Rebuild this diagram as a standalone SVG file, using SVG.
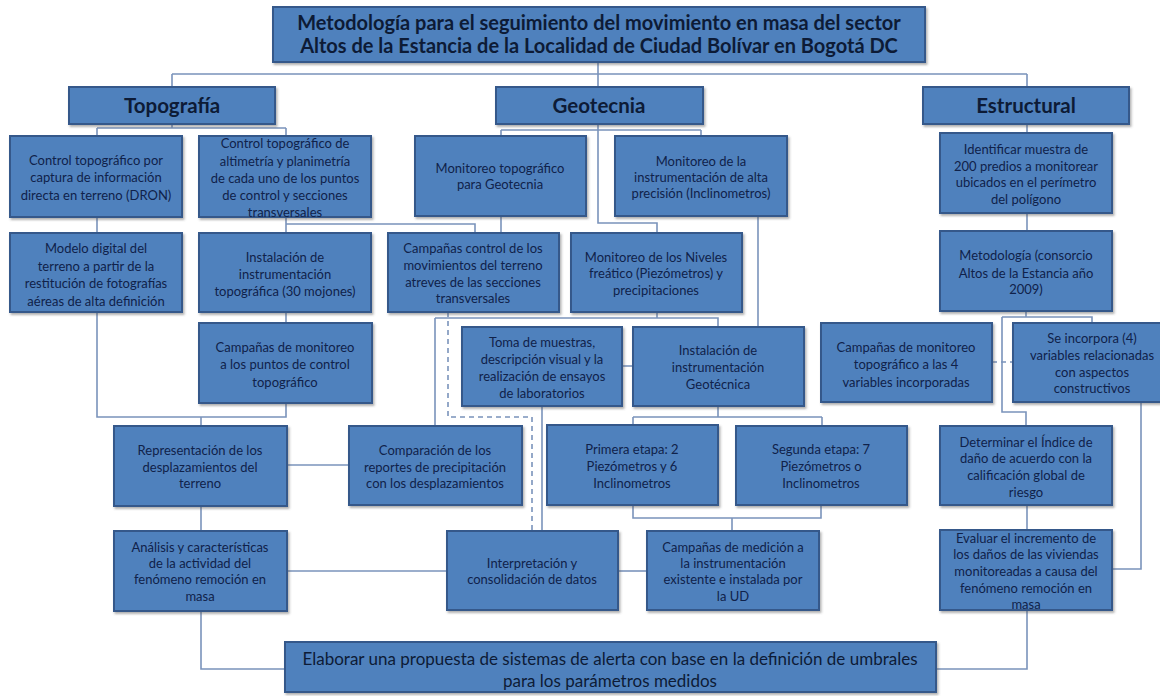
<svg xmlns="http://www.w3.org/2000/svg" width="1160" height="696" viewBox="0 0 1160 696">
<defs>
<filter id="sh" x="-5%" y="-5%" width="115%" height="120%">
<feDropShadow dx="1.5" dy="2" stdDeviation="1.2" flood-color="#555" flood-opacity="0.45"/>
</filter>
</defs>
<style>
.box{fill:#4f81bd;stroke:#36598a;stroke-width:2;filter:url(#sh)}
.t{font-family:Lato,"Liberation Sans",sans-serif;font-size:13px;fill:#10224a;text-anchor:middle;dominant-baseline:central}
.h{font-family:Lato,"Liberation Sans",sans-serif;font-size:20.5px;font-weight:bold;fill:#0d1b36;text-anchor:middle;dominant-baseline:central}
.ti{font-family:Lato,"Liberation Sans",sans-serif;font-size:20px;font-weight:bold;fill:#0d1b36;text-anchor:middle;dominant-baseline:central}
.f{font-family:Lato,"Liberation Sans",sans-serif;font-size:17px;fill:#0d1b36;text-anchor:middle;dominant-baseline:central}
.c{fill:none;stroke:#7a93bb;stroke-width:1.6}
.d{fill:none;stroke:#7a93bb;stroke-width:1.6;stroke-dasharray:5,4}
</style>
<rect width="1160" height="696" fill="#ffffff"/>
<g id="connectors">
<path class="c" d="M598,62 V74 M172,74 H1027 M172,74 V87 M598,74 V87 M1027,74 V87"/>
<path class="c" d="M172,124 V128 M97,128 H286 M97,128 V136 M286,128 V136"/>
<path class="c" d="M598,124 V223 H657 V233 M501,130 H701 M501,130 V136 M701,130 V136"/>
<path class="c" d="M1027,124 V133"/>
<path class="c" d="M97,217 V233"/>
<path class="c" d="M286,217 V233 M286,224 H475 V233"/>
<path class="c" d="M501,216 V233"/>
<path class="c" d="M758,216 V327"/>
<path class="c" d="M1027,213 V231"/>
<path class="c" d="M286,312 V323"/>
<path class="c" d="M97,312 V417 H286 V403 M201,417 V426"/>
<path class="d" d="M448,312 V417 H532 V531"/>
<path class="c" d="M657,312 V318 M435,318 H718 V327 M435,318 V426"/>
<path class="c" d="M622,366 H633"/>
<path class="c" d="M542,406 V531"/>
<path class="c" d="M718,406 V417 M633,417 H822 M633,417 V425 M822,417 V426"/>
<path class="c" d="M287,465 H349"/>
<path class="c" d="M201,506 V531"/>
<path class="c" d="M287,571 H447"/>
<path class="c" d="M618,571 H647"/>
<path class="c" d="M633,505 V518 H821 V505 M732,518 V531"/>
<path class="c" d="M1026,311 V317 M1002,317 H1092 V323 M1002,317 V412 H1026 V426"/>
<path class="d" d="M992,362 H1013"/>
<path class="c" d="M1027,505 V530"/>
<path class="c" d="M1141,402 V569 H1112"/>
<path class="c" d="M201,611 V669 H285"/>
<path class="c" d="M1027,610 V669 H936"/>
</g>
<g id="title">
<rect class="box" x="273" y="7" width="652" height="55"/>
<text class="ti" x="599" y="22">Metodología para el seguimiento del movimiento en masa del sector</text>
<text class="ti" x="599" y="45">Altos de la Estancia de la Localidad de Ciudad Bolívar en Bogotá DC</text>
</g>
<g id="topografia">
<rect class="box" x="69" y="87" width="206" height="37"/>
<text class="h" x="172" y="105">Topografía</text>
</g>
<g id="geotecnia">
<rect class="box" x="496" y="87" width="207" height="37"/>
<text class="h" x="599" y="105">Geotecnia</text>
</g>
<g id="estructural">
<rect class="box" x="923" y="87" width="206" height="37"/>
<text class="h" x="1026" y="105">Estructural</text>
</g>
<g id="t1">
<rect class="box" x="10" y="136" width="172" height="81"/>
<text class="t" x="96" y="160">Control topográfico por</text>
<text class="t" x="96" y="177">captura de información</text>
<text class="t" x="96" y="195">directa en terreno (DRON)</text>
</g>
<g id="t2">
<rect class="box" x="199" y="136" width="172" height="81"/>
<text class="t" x="285" y="143">Control topográfico de</text>
<text class="t" x="285" y="161">altimetría  y planimetría</text>
<text class="t" x="285" y="178">de cada uno de los puntos</text>
<text class="t" x="285" y="195">de control y secciones</text>
<text class="t" x="285" y="212">transversales</text>
</g>
<g id="g1">
<rect class="box" x="415" y="136" width="171" height="80"/>
<text class="t" x="500" y="168">Monitoreo topográfico</text>
<text class="t" x="500" y="184">para Geotecnia</text>
</g>
<g id="g2">
<rect class="box" x="615" y="136" width="172" height="80"/>
<text class="t" x="701" y="161">Monitoreo de la</text>
<text class="t" x="701" y="177">instrumentación de alta</text>
<text class="t" x="701" y="193">precisión (Inclinometros)</text>
</g>
<g id="e1">
<rect class="box" x="940" y="133" width="172" height="80"/>
<text class="t" x="1026" y="149">Identificar  muestra de</text>
<text class="t" x="1026" y="166">200 predios a monitorear</text>
<text class="t" x="1026" y="182">ubicados en el perímetro</text>
<text class="t" x="1026" y="199">del polígono</text>
</g>
<g id="t3">
<rect class="box" x="10" y="233" width="172" height="79"/>
<text class="t" x="96" y="248">Modelo digital del</text>
<text class="t" x="96" y="266">terreno a partir de la</text>
<text class="t" x="96" y="283">restitución de fotografías</text>
<text class="t" x="96" y="301">aéreas de alta definición</text>
</g>
<g id="t4">
<rect class="box" x="199" y="233" width="172" height="79"/>
<text class="t" x="285" y="257">Instalación de</text>
<text class="t" x="285" y="274">instrumentación</text>
<text class="t" x="285" y="291">topográfica (30 mojones)</text>
</g>
<g id="g3">
<rect class="box" x="388" y="233" width="171" height="79"/>
<text class="t" x="473" y="248">Campañas control de los</text>
<text class="t" x="473" y="265">movimientos del terreno</text>
<text class="t" x="473" y="282">atreves de las secciones</text>
<text class="t" x="473" y="298">transversales</text>
</g>
<g id="g4">
<rect class="box" x="571" y="233" width="171" height="79"/>
<text class="t" x="656" y="257">Monitoreo de los  Niveles</text>
<text class="t" x="656" y="273">freático (Piezómetros) y</text>
<text class="t" x="656" y="290">precipitaciones</text>
</g>
<g id="e2">
<rect class="box" x="940" y="231" width="172" height="80"/>
<text class="t" x="1026" y="255">Metodología  (consorcio</text>
<text class="t" x="1026" y="273">Altos de la Estancia  año</text>
<text class="t" x="1026" y="289">2009)</text>
</g>
<g id="t5">
<rect class="box" x="199" y="323" width="173" height="80"/>
<text class="t" x="285" y="347">Campañas de monitoreo</text>
<text class="t" x="285" y="364">a los puntos de control</text>
<text class="t" x="285" y="382">topográfico</text>
</g>
<g id="g5">
<rect class="box" x="462" y="327" width="160" height="79"/>
<text class="t" x="542" y="342">Toma de muestras,</text>
<text class="t" x="542" y="359">descripción visual y la</text>
<text class="t" x="542" y="376">realización de ensayos</text>
<text class="t" x="542" y="393">de laboratorios</text>
</g>
<g id="g6">
<rect class="box" x="633" y="327" width="171" height="79"/>
<text class="t" x="718" y="350">Instalación de</text>
<text class="t" x="718" y="367">instrumentación</text>
<text class="t" x="718" y="384">Geotécnica</text>
</g>
<g id="e3">
<rect class="box" x="821" y="323" width="171" height="79"/>
<text class="t" x="906" y="347">Campañas de monitoreo</text>
<text class="t" x="906" y="364">topográfico a las 4</text>
<text class="t" x="906" y="382">variables incorporadas</text>
</g>
<g id="e4">
<rect class="box" x="1013" y="323" width="160" height="79"/>
<text class="t" x="1092" y="338">Se incorpora (4)</text>
<text class="t" x="1092" y="355">variables relacionadas</text>
<text class="t" x="1092" y="372">con aspectos</text>
<text class="t" x="1092" y="388">constructivos</text>
</g>
<g id="t6">
<rect class="box" x="114" y="426" width="173" height="80"/>
<text class="t" x="200" y="450">Representación de los</text>
<text class="t" x="200" y="467">desplazamientos del</text>
<text class="t" x="200" y="483">terreno</text>
</g>
<g id="g7">
<rect class="box" x="349" y="426" width="173" height="79"/>
<text class="t" x="435" y="450">Comparación de los</text>
<text class="t" x="435" y="467">reportes de precipitación</text>
<text class="t" x="435" y="483">con los desplazamientos</text>
</g>
<g id="g8">
<rect class="box" x="547" y="425" width="171" height="80"/>
<text class="t" x="632" y="449">Primera etapa: 2</text>
<text class="t" x="632" y="466">Piezómetros y 6</text>
<text class="t" x="632" y="483">Inclinometros</text>
</g>
<g id="g9">
<rect class="box" x="736" y="426" width="171" height="79"/>
<text class="t" x="821" y="449">Segunda etapa: 7</text>
<text class="t" x="821" y="466">Piezómetros o</text>
<text class="t" x="821" y="483">Inclinometros</text>
</g>
<g id="e5">
<rect class="box" x="940" y="426" width="172" height="79"/>
<text class="t" x="1026" y="442">Determinar el Índice de</text>
<text class="t" x="1026" y="458">daño de acuerdo con la</text>
<text class="t" x="1026" y="475">calificación global de</text>
<text class="t" x="1026" y="492">riesgo</text>
</g>
<g id="t7">
<rect class="box" x="114" y="531" width="173" height="80"/>
<text class="t" x="200" y="547">Análisis y características</text>
<text class="t" x="200" y="563">de la actividad del</text>
<text class="t" x="200" y="579">fenómeno remoción en</text>
<text class="t" x="200" y="596">masa</text>
</g>
<g id="g10">
<rect class="box" x="447" y="531" width="171" height="79"/>
<text class="t" x="532" y="563">Interpretación y</text>
<text class="t" x="532" y="579">consolidación de datos</text>
</g>
<g id="g11">
<rect class="box" x="647" y="531" width="172" height="79"/>
<text class="t" x="733" y="547">Campañas de medición a</text>
<text class="t" x="733" y="563">la instrumentación</text>
<text class="t" x="733" y="579">existente e instalada por</text>
<text class="t" x="733" y="596">la UD</text>
</g>
<g id="e6">
<rect class="box" x="940" y="530" width="172" height="80"/>
<text class="t" x="1026" y="538">Evaluar el incremento de</text>
<text class="t" x="1026" y="554">los daños  de las viviendas</text>
<text class="t" x="1026" y="571">monitoreadas a causa del</text>
<text class="t" x="1026" y="588">fenómeno remoción en</text>
<text class="t" x="1026" y="604">masa</text>
</g>
<g id="final">
<rect class="box" x="285" y="642" width="651" height="50"/>
<text class="f" x="610" y="658">Elaborar una propuesta de sistemas de alerta con base en la definición de umbrales</text>
<text class="f" x="610" y="680">para los parámetros medidos</text>
</g>
</svg>
